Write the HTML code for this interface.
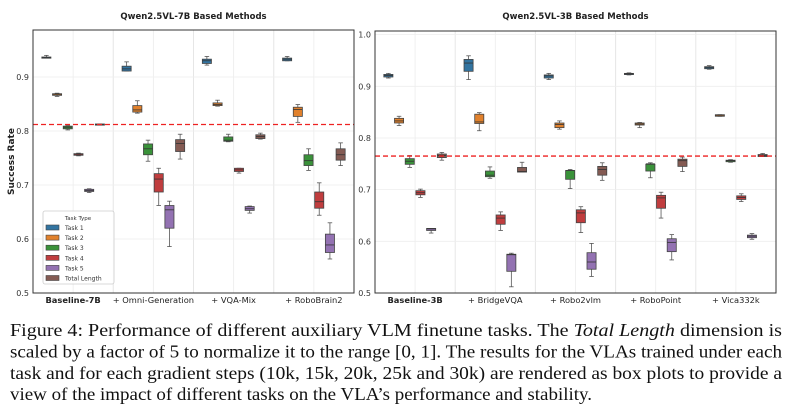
<!DOCTYPE html>
<html><head><meta charset="utf-8"><style>
html,body{margin:0;padding:0;background:#fff;}
svg{display:block;font-family:"DejaVu Sans","Liberation Sans",sans-serif;}
.cap{font-family:"Liberation Serif",serif;font-size:18px;fill:#111;}
</style></head><body>
<svg id="fig" width="792" height="415" viewBox="0 0 792 415">
<g id="left"></g>
<g id="right"></g>
<g class="cap">
<text class="cap" x="10" y="336" textLength="772" lengthAdjust="spacingAndGlyphs">Figure 4: Performance of different auxiliary VLM finetune tasks. The <tspan font-style="italic">Total Length</tspan> dimension is</text>
<text class="cap" x="10" y="357.5" textLength="772" lengthAdjust="spacingAndGlyphs">scaled by a factor of 5 to normalize it to the range [0, 1]. The results for the VLAs trained under each</text>
<text class="cap" x="10" y="379" textLength="772" lengthAdjust="spacingAndGlyphs">task and for each gradient steps (10k, 15k, 20k, 25k and 30k) are rendered as box plots to provide a</text>
<text class="cap" x="10" y="400" textLength="582" lengthAdjust="spacingAndGlyphs">view of the impact of different tasks on the VLA’s performance and stability.</text>
</g>
</svg>
<script>
// ---- data ----
const taskNames = ["Task 1","Task 2","Task 3","Task 4","Task 5","Total Length"];
const leftGroups = ["Baseline-7B","+ Omni-Generation","+ VQA-Mix","+ RoboBrain2"];
const rightGroups = ["Baseline-3B","+ BridgeVQA","+ Robo2vlm","+ RoboPoint","+ Vica332k"];
const leftTicks = [0.5,0.6,0.7,0.8,0.9];
const rightTicks = [0.5,0.6,0.7,0.8,0.9,1.0];
const leftBaseline = 0.812;
const rightBaseline = 0.765;
// each stat: [min, q1, median, q3, max]
const leftStats = [
 [[.935,.935,.936,.937,.940],[.864,.866,.868,.869,.870],[.802,.804,.807,.809,.810],[.754,.755,.757,.758,.759],[.686,.688,.690,.692,.693],[.811,.811,.812,.813,.813]],
 [[.911,.911,.915,.920,.928],[.833,.835,.839,.847,.856],[.744,.756,.767,.776,.783],[.662,.687,.711,.721,.731],[.586,.620,.654,.662,.670],[.748,.762,.777,.784,.794]],
 [[.922,.925,.930,.933,.938],[.846,.847,.849,.852,.857],[.780,.781,.783,.789,.794],[.722,.725,.728,.731,.731],[.648,.653,.656,.660,.661],[.785,.786,.790,.793,.796]],
 [[.930,.930,.933,.935,.938],[.816,.827,.840,.844,.849],[.727,.736,.745,.756,.767],[.644,.657,.669,.687,.704],[.563,.575,.589,.609,.630],[.736,.746,.756,.767,.778]]
];
const rightStats = [
 [[.916,.918,.921,.923,.925],[.824,.829,.833,.838,.842],[.743,.749,.755,.760,.766],[.685,.690,.694,.698,.701],[.616,.621,.624,.625,.625],[.757,.762,.766,.769,.772]],
 [[.913,.929,.945,.952,.959],[.814,.828,.831,.846,.849],[.722,.725,.728,.736,.744],[.621,.633,.645,.651,.657],[.512,.542,.574,.575,.577],[.734,.734,.735,.743,.753]],
 [[.913,.916,.920,.922,.925],[.817,.820,.826,.829,.833],[.702,.720,.737,.737,.739],[.617,.636,.655,.661,.667],[.532,.546,.560,.578,.596],[.718,.728,.739,.745,.752]],
 [[.922,.923,.924,.925,.926],[.820,.825,.827,.829,.830],[.723,.736,.750,.749,.752],[.645,.664,.684,.689,.695],[.564,.580,.598,.605,.613],[.735,.745,.756,.759,.763]],
 [[.933,.934,.936,.938,.940],[.842,.842,.844,.845,.845],[.753,.754,.756,.757,.758],[.677,.681,.685,.688,.692],[.604,.607,.610,.612,.615],[.764,.764,.766,.768,.770]]
];
const colors = ["#3274a1","#e1812c","#3a923a","#c03d3e","#9372b2","#845b53"];
const NS = "http://www.w3.org/2000/svg";
function mk(parent, tag, attrs, name, text){
  const e = document.createElementNS(NS, tag);
  for (const k in attrs) e.setAttribute(k, attrs[k]);
  
  
  if (text !== undefined) e.textContent = text;
  parent.appendChild(e);
  return e;
}
function drawChart(g, cfg){
  const {x0,x1,y0,y1,vmin,vmax,groups,stats,ticks,base,title,legend,ylabel} = cfg;
  const yS = v => y1 - (v - vmin) / (vmax - vmin) * (y1 - y0);
  const gw = (x1 - x0) / groups.length;
  const slot = gw * 0.8 / 6;
  const xS = (gi, ti) => x0 + gi * gw + gw * 0.1 + slot * (ti + 0.5);
  groups.forEach((gname, gi) => {
    mk(g,'line',{x1:x0+gi*gw+gw/2,x2:x0+gi*gw+gw/2,y1:y0,y2:y1,stroke:'#ececec','stroke-width':0.8},'grid-x');
    if (gi>0) mk(g,'line',{x1:x0+gi*gw,x2:x0+gi*gw,y1:y0,y2:y1,stroke:'#e6e6e6','stroke-width':1},'group-separator');
  });
  ticks.forEach(t => {
    mk(g,'line',{x1:x0,x2:x1,y1:yS(t),y2:yS(t),stroke:'#eeeeee','stroke-width':0.8},'grid-y');
    mk(g,'text',{x:x0-4,y:yS(t)+3,'text-anchor':'end','font-size':8,fill:'#333'},'y-tick-label',t.toFixed(1));
  });
  stats.forEach((grp, gi) => {
    grp.forEach((s, ti) => {
      const cx = xS(gi, ti), w = slot * 0.85;
      const bg = mk(g,'g',{},'box-'+gi+'-'+ti);
      mk(bg,'line',{x1:cx,x2:cx,y1:yS(s[0]),y2:yS(s[1]),stroke:'#555','stroke-width':0.8},'whisker-low');
      mk(bg,'line',{x1:cx,x2:cx,y1:yS(s[3]),y2:yS(s[4]),stroke:'#555','stroke-width':0.8},'whisker-high');
      mk(bg,'line',{x1:cx-w/4,x2:cx+w/4,y1:yS(s[0]),y2:yS(s[0]),stroke:'#555','stroke-width':0.8},'cap-low');
      mk(bg,'line',{x1:cx-w/4,x2:cx+w/4,y1:yS(s[4]),y2:yS(s[4]),stroke:'#555','stroke-width':0.8},'cap-high');
      const top = yS(Math.max(s[1],s[3])), bot = yS(Math.min(s[1],s[3]));
      mk(bg,'rect',{x:cx-w/2,y:top,width:w,height:Math.max(bot-top,1.2),fill:colors[ti],stroke:'#444','stroke-width':0.8},'box');
      mk(bg,'line',{x1:cx-w/2,x2:cx+w/2,y1:yS(s[2]),y2:yS(s[2]),stroke:'#333','stroke-width':0.8},'median');
    });
    mk(g,'text',{x:x0+gi*gw+gw/2,y:y1+10,'text-anchor':'middle','font-size':8.3,fill:'#222','font-weight':gi===0?'bold':'normal'},'x-tick-label',groups[gi]);
  });
  mk(g,'line',{x1:x0,x2:x1,y1:yS(base),y2:yS(base),stroke:'#ee2222','stroke-width':1.3,'stroke-dasharray':'5,3'},'baseline-reference-line');
  mk(g,'rect',{x:x0,y:y0,width:x1-x0,height:y1-y0,fill:'none',stroke:'#333','stroke-width':1},'plot-frame');
  mk(g,'text',{x:(x0+x1)/2,y:19,'text-anchor':'middle','font-size':8.5,'font-weight':'bold',fill:'#222'},'chart-title',title);
  if (ylabel) mk(g,'text',{x:14,y:(y0+y1)/2,'text-anchor':'middle','font-size':9,'font-weight':'bold',fill:'#222',transform:'rotate(-90 14 '+((y0+y1)/2)+')'},'y-axis-title',ylabel);
  if (legend){
    const lg = mk(g,'g',{},'legend');
    mk(lg,'rect',{x:43,y:211,width:71,height:73,fill:'#fff','fill-opacity':0.85,stroke:'#ccc','stroke-width':0.8,rx:2},'legend-frame');
    mk(lg,'text',{x:78,y:220,'text-anchor':'middle','font-size':5.5,fill:'#333'},'legend-title','Task Type');
    taskNames.forEach((n,i)=>{
      const yy = 224 + i*10.1;
      mk(lg,'rect',{x:46,y:yy+1,width:13,height:5,fill:colors[i],stroke:'#444','stroke-width':0.6},'legend-swatch');
      mk(lg,'text',{x:65,y:yy+6,'font-size':6,fill:'#333'},'legend-entry',n);
    });
  }
}
drawChart(document.getElementById('left'),{x0:33,x1:354,y0:30,y1:293,vmin:0.5,vmax:0.987,groups:leftGroups,stats:leftStats,ticks:leftTicks,base:leftBaseline,title:'Qwen2.5VL-7B Based Methods',legend:true,ylabel:'Success Rate'});
drawChart(document.getElementById('right'),{x0:375,x1:776,y0:31,y1:293,vmin:0.5,vmax:1.007,groups:rightGroups,stats:rightStats,ticks:rightTicks,base:rightBaseline,title:'Qwen2.5VL-3B Based Methods',legend:false,ylabel:null});
</script>
</body></html>
